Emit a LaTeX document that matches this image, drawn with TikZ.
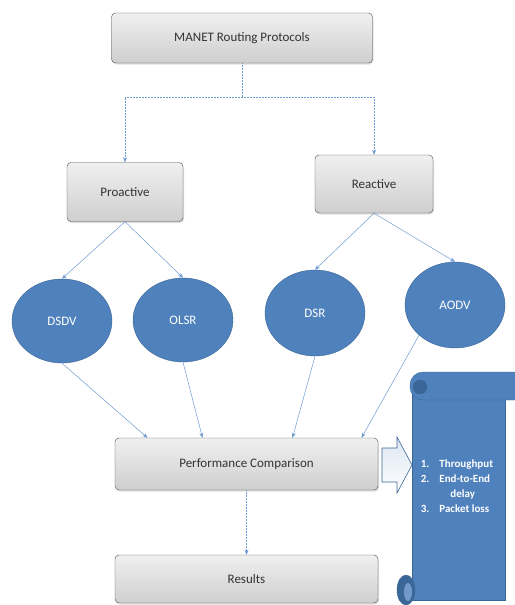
\documentclass[tikz,border=0pt]{standalone}
\usepackage{fontspec}
\setmainfont{Carlito}
\usetikzlibrary{shapes.geometric, arrows.meta, positioning, shadows}

\definecolor{bluefill}{HTML}{4F81BD}
\definecolor{blueline}{HTML}{3A6797}
\definecolor{bluedark}{HTML}{3B6698}
\definecolor{linkblue}{HTML}{6E9AD2}
\definecolor{arrowfill}{HTML}{DCE6F2}

\begin{document}
\begin{tikzpicture}[
    x=1pt, y=-1pt,
    box/.style={rectangle, draw=gray!60!black, rounded corners=4pt, top color=gray!12, middle color=gray!4, bottom color=gray!38, text=black!80, font=\fontsize{13}{15}\selectfont, drop shadow={opacity=0.25, shadow xshift=1pt, shadow yshift=-1.5pt}},
    proto/.style={ellipse, draw=blueline, fill=bluefill, text=white, minimum width=100pt, minimum height=84pt, font=\fontsize{13}{15}\selectfont},
    link/.style={-{Stealth[length=5pt, width=4pt]}, draw=linkblue, line width=0.5pt},
    dlink/.style={link, densely dotted}
]
    \useasboundingbox (0,0) rectangle (514,605);

    \node [box, minimum width=261pt, minimum height=50pt] (manet) at (242,38) {MANET Routing Protocols};
    \node [box, minimum width=116pt, minimum height=59pt] (pro) at (125,192) {Proactive};
    \node [box, minimum width=118pt, minimum height=58pt] (rea) at (374,184) {Reactive};

    \node [proto] (dsdv) at (62,321) {DSDV};
    \node [proto] (olsr) at (183,320) {OLSR};
    \node [proto, minimum height=86pt] (dsr) at (315,313) {DSR};
    \node [proto, minimum height=86pt] (aodv) at (455,305) {AODV};

    \node [box, minimum width=263pt, minimum height=52pt] (perf) at (246.5,464) {Performance Comparison};
    \node [box, minimum width=263pt, minimum height=48pt] (res) at (246.5,579) {Results};

    % split from the top box
    \coordinate (split) at (242,97);
    \draw [dlink] (manet.south) -- (split) -| (pro.north);
    \draw [dlink] (split) -| (rea.north);

    \draw [link] (pro.south) -- (dsdv.north);
    \draw [link] (pro.south) -- (olsr.north);
    \draw [link] (rea.south) -- (dsr.north);
    \draw [link] (rea.south) -- (aodv.north);

    \draw [link] (dsdv.south) -- ([xshift=-99pt]perf.north);
    \draw [link] (olsr.south) -- ([xshift=-44pt]perf.north);
    \draw [link] (dsr.south) -- ([xshift=46pt]perf.north);
    \draw [link] (aodv.220) -- ([xshift=115pt]perf.north);

    \draw [dlink] (perf.south) -- (res.north);

    % block arrow
    \draw [draw=blueline, top color=arrowfill, bottom color=white, line width=0.6pt]
        (382,448) -- (397,448) -- (397,437) -- (412,465) -- (397,493) -- (397,482) -- (382,482) -- cycle;

    % scroll
    \draw [fill=bluefill, draw=blueline] (412,388) rectangle (505,600);
    \draw [fill=bluefill, draw=blueline, rounded corners=13pt] (410,372) rectangle (540,400);
    \draw [fill=bluedark, draw=blueline] (420,387) circle (7);
    \draw [fill=bluedark, draw=blueline] (406,590) ellipse (9 and 15);
    \fill [bluefill!80!white] (408,592) ellipse (4 and 9);

    \node [text=white, font=\bfseries\fontsize{11}{15}\selectfont, align=left] (metrics) at (457,487)
        {\begin{tabular}{@{}l@{\hspace{10pt}}l@{}}
         1. & Throughput\\
         2. & End-to-End\\
            & \hspace{11pt}delay\\
         3. & Packet loss
         \end{tabular}};
\end{tikzpicture}
\end{document}
